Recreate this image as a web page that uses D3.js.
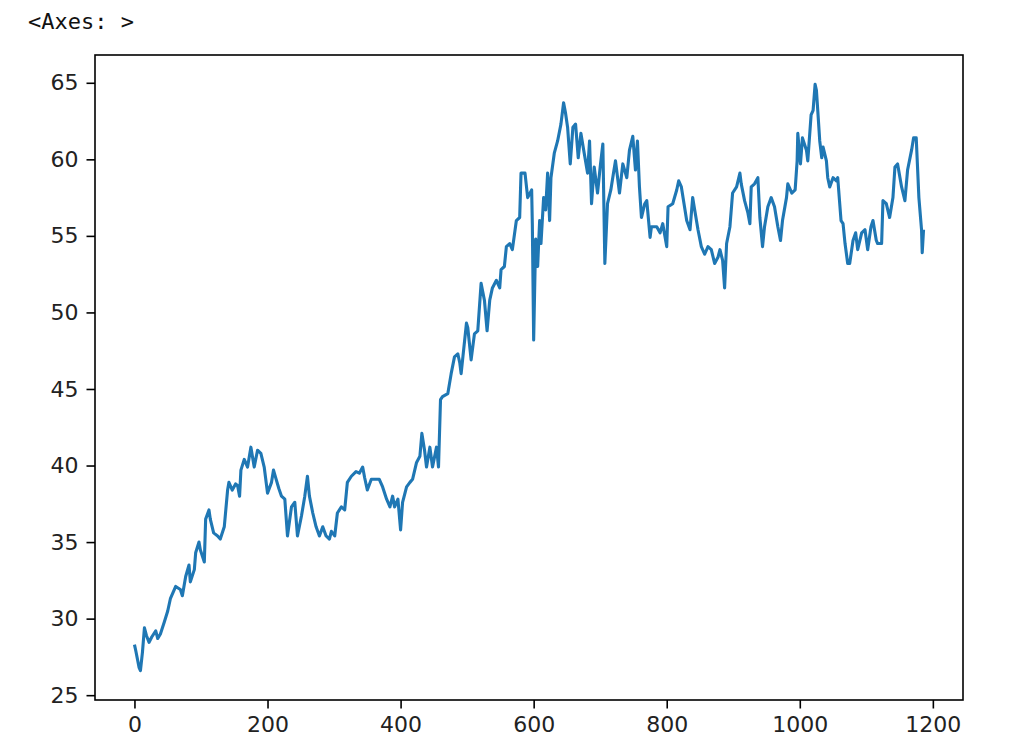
<!DOCTYPE html>
<html>
<head>
<meta charset="utf-8">
<script src="https://cdn.jsdelivr.net/npm/d3@7"></script>
<style>
  html, body { margin: 0; padding: 0; background: #fff; }
  svg { display: block; }
</style>
</head>
<body>
<svg id="chart" width="1009" height="752"></svg>
<script>
const days = [
  0, 2, 7, 9, 12, 15, 18, 22, 26, 32, 35, 39, 45, 50, 54, 62, 69, 72, 77, 82,
  84, 90, 92, 97, 99, 105, 107, 112, 114, 119, 125, 129, 135, 140, 142, 147, 152, 155, 158, 160,
  165, 170, 175, 180, 185, 190, 195, 200, 206, 209, 213, 217, 221, 226, 230, 236, 241, 245, 251, 256,
  260, 263, 268, 273, 278, 283, 288, 293, 296, 301, 305, 311, 316, 320, 326, 333, 338, 343, 346, 350,
  356, 364, 368, 373, 379, 384, 388, 391, 396, 400, 403, 409, 414, 418, 424, 429, 432, 436, 439, 444,
  448, 454, 457, 460, 463, 471, 476, 481, 486, 489, 491, 499, 501, 506, 511, 516, 521, 526, 530, 534,
  538, 544, 549, 551, 556, 559, 564, 568, 574, 579, 581, 587, 591, 597, 598, 600, 603, 606, 609, 611,
  615, 618, 621, 624, 626, 631, 636, 641, 645, 648, 651, 655, 659, 663, 667, 671, 676, 681, 684, 687,
  691, 696, 700, 704, 707, 711, 716, 720, 723, 729, 734, 740, 744, 749, 753, 756, 759, 762, 767, 770,
  775, 777, 785, 790, 794, 800, 802, 809, 815, 818, 822, 826, 830, 835, 839, 842, 847, 852, 857, 862,
  867, 872, 877, 880, 884, 887, 890, 895, 899, 905, 910, 912, 917, 922, 925, 927, 932, 937, 940, 944,
  947, 952, 957, 962, 967, 971, 974, 980, 982, 988, 993, 996, 997, 1001, 1004, 1010, 1012, 1017, 1020, 1023,
  1025, 1027, 1030, 1033, 1035, 1040, 1042, 1045, 1050, 1055, 1057, 1062, 1065, 1068, 1072, 1075, 1080, 1084, 1087, 1093,
  1098, 1102, 1107, 1110, 1115, 1117, 1123, 1125, 1130, 1135, 1140, 1143, 1147, 1153, 1158, 1162, 1168, 1171, 1175, 1179,
  1183, 1184, 1186
];
const prices = [
  28.3, 27.9, 26.8, 26.6, 27.8, 29.4, 28.9, 28.45, 28.8, 29.2, 28.7, 29.0, 29.8, 30.5, 31.3, 32.1, 31.9, 31.5, 32.75, 33.5,
  32.4, 33.2, 34.3, 35.0, 34.5, 33.7, 36.5, 37.1, 36.5, 35.6, 35.4, 35.2, 36.0, 38.4, 38.9, 38.4, 38.8, 38.7, 38.0, 39.7,
  40.4, 39.9, 41.2, 39.9, 41.0, 40.8, 39.9, 38.2, 38.9, 39.7, 39.1, 38.5, 38.0, 37.8, 35.4, 37.3, 37.6, 35.4, 36.7, 38.0,
  39.3, 38.0, 36.9, 36.0, 35.4, 36.0, 35.4, 35.2, 35.7, 35.4, 36.9, 37.3, 37.1, 38.9, 39.3, 39.6, 39.5, 39.9, 39.2, 38.4,
  39.1, 39.1, 39.1, 38.6, 37.8, 37.3, 38.0, 37.3, 37.8, 35.8, 37.6, 38.6, 38.9, 39.1, 40.2, 40.6, 42.1, 41.0, 39.9, 41.2,
  39.9, 41.2, 39.9, 44.3, 44.5, 44.7, 46.0, 47.1, 47.3, 46.7, 46.0, 49.3, 49.0, 46.9, 48.6, 48.8, 51.9, 50.8, 48.8, 50.8,
  51.6, 52.1, 51.6, 52.8, 53.0, 54.3, 54.5, 54.1, 56.0, 56.2, 59.1, 59.1, 57.5, 58.0, 55.8, 48.2, 54.8, 53.0, 56.0, 54.5,
  57.5, 56.7, 59.1, 56.0, 58.8, 60.4, 61.2, 62.3, 63.7, 63.0, 62.1, 59.7, 62.1, 62.3, 60.1, 61.7, 60.4, 59.1, 61.2, 57.1,
  59.5, 57.8, 59.5, 61.0, 53.2, 57.1, 58.0, 59.1, 59.9, 57.8, 59.7, 58.8, 60.6, 61.5, 59.3, 61.2, 58.2, 56.2, 57.1, 57.3,
  54.9, 55.6, 55.6, 55.2, 55.8, 54.3, 56.9, 57.1, 58.0, 58.6, 58.2, 57.1, 56.0, 55.4, 57.5, 56.7, 55.4, 54.3, 53.8, 54.3,
  54.1, 53.2, 53.6, 54.1, 53.4, 51.6, 54.5, 55.6, 57.8, 58.2, 59.1, 58.4, 57.3, 56.5, 55.8, 58.2, 58.4, 58.8, 56.2, 54.3,
  55.6, 56.9, 57.5, 56.9, 55.6, 54.7, 56.0, 57.5, 58.4, 57.8, 58.0, 59.9, 61.7, 59.7, 61.4, 60.6, 59.9, 62.9, 63.2, 64.9,
  64.5, 63.2, 61.2, 60.1, 60.8, 59.9, 58.8, 58.2, 58.8, 58.6, 58.8, 56.0, 55.8, 54.5, 53.2, 53.2, 54.7, 55.2, 54.1, 55.2,
  55.4, 54.1, 55.6, 56.0, 54.7, 54.5, 54.5, 57.3, 57.1, 56.2, 57.5, 59.5, 59.7, 58.2, 57.3, 59.3, 60.6, 61.4, 61.4, 57.5,
  55.4, 53.9, 55.4
];
const xTicks = [0, 200, 400, 600, 800, 1000, 1200];
const yTicks = [25, 30, 35, 40, 45, 50, 55, 60, 65];
const titleText = "<Axes: >";

const svg = d3.select("#chart");
const plot = { left: 95, right: 963, top: 55, bottom: 700 };

// matplotlib-like 5% margins
const xExt = d3.extent(days), yExt = d3.extent(prices);
const xPad = (xExt[1] - xExt[0]) * 0.05, yPad = (yExt[1] - yExt[0]) * 0.05;
const x = d3.scaleLinear().domain([xExt[0] - xPad, xExt[1] + xPad]).range([plot.left, plot.right]);
const y = d3.scaleLinear().domain([yExt[0] - yPad, yExt[1] + yPad]).range([plot.bottom, plot.top]);

svg.append("text")
  .attr("x", 28).attr("y", 29)
  .attr("font-family", "DejaVu Sans Mono, monospace")
  .attr("font-size", 22)
  .attr("fill", "#111")
  .text(titleText);

const data = days.map((d, i) => [d, prices[i]]);
svg.append("path")
  .datum(data)
  .attr("fill", "none")
  .attr("stroke", "#1f77b4")
  .attr("stroke-width", 3.1)
  .attr("stroke-linejoin", "round")
  .attr("stroke-linecap", "butt")
  .attr("d", d3.line().x(d => x(d[0])).y(d => y(d[1])));

const xAxis = svg.append("g")
  .attr("transform", `translate(0,${plot.bottom})`)
  .call(d3.axisBottom(x).tickValues(xTicks).tickSize(8.5).tickPadding(8).tickFormat(d3.format("d")));
const yAxis = svg.append("g")
  .attr("transform", `translate(${plot.left},0)`)
  .call(d3.axisLeft(y).tickValues(yTicks).tickSize(8.5).tickPadding(8).tickFormat(d3.format("d")));

[xAxis, yAxis].forEach(g => {
  g.select(".domain").remove();
  g.selectAll(".tick line").attr("stroke", "#000").attr("stroke-width", 1.6);
  g.selectAll(".tick text")
    .attr("font-family", "DejaVu Sans, sans-serif")
    .attr("font-size", 22)
    .attr("fill", "#222");
});

svg.append("rect")
  .attr("x", plot.left).attr("y", plot.top)
  .attr("width", plot.right - plot.left).attr("height", plot.bottom - plot.top)
  .attr("fill", "none").attr("stroke", "#000").attr("stroke-width", 1.6);
</script>
</body>
</html>
